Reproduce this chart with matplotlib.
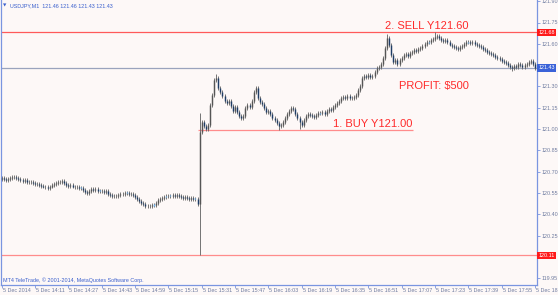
import matplotlib
matplotlib.use("Agg")
import matplotlib.pyplot as plt
import matplotlib.transforms as mtransforms

# ---------------- data ----------------
symbol_title = "USDJPY,M1  121.46 121.46 121.43 121.43"
copyright_text = "MT4 TeleTrade, \u00a9 2001-2014, MetaQuotes Software Corp."

first_open = 120.65
closes = [
    120.655, 120.65, 120.64, 120.645, 120.655, 120.66, 120.665, 120.655, 120.645, 120.64,
    120.635, 120.64, 120.63, 120.625, 120.63, 120.62, 120.615, 120.61, 120.605, 120.60,
    120.595, 120.59, 120.585, 120.595, 120.605, 120.615, 120.62, 120.625, 120.63, 120.634,
    120.62, 120.605, 120.60, 120.605, 120.595, 120.59, 120.595, 120.585, 120.585, 120.57,
    120.555, 120.55, 120.56, 120.575, 120.57, 120.575, 120.565, 120.565, 120.56, 120.555,
    120.56, 120.545, 120.535, 120.53, 120.525, 120.53, 120.535, 120.54, 120.545, 120.55,
    120.55, 120.545, 120.54, 120.535, 120.52, 120.505, 120.49, 120.48, 120.47, 120.46,
    120.455, 120.46, 120.465, 120.465, 120.48, 120.50, 120.51, 120.515, 120.523, 120.525,
    120.53, 120.53, 120.535, 120.53, 120.535, 120.53, 120.52, 120.515, 120.52, 120.515,
    120.51, 120.515, 120.51, 120.51, 120.47, 120.98, 121.05, 121.02, 121.00, 121.03,
    121.17, 121.24, 121.345, 121.36, 121.29, 121.26, 121.23, 121.20, 121.18, 121.20,
    121.16, 121.13, 121.155, 121.12, 121.09, 121.08, 121.09, 121.15, 121.17, 121.155,
    121.20, 121.26, 121.29, 121.22, 121.19, 121.175, 121.15, 121.12, 121.13, 121.105,
    121.08, 121.065, 121.04, 121.02, 121.03, 121.05, 121.08, 121.105, 121.13, 121.15,
    121.14, 121.105, 121.08, 121.05, 121.03, 121.065, 121.09, 121.105, 121.10, 121.09,
    121.085, 121.10, 121.11, 121.11, 121.12, 121.105, 121.125, 121.14, 121.135, 121.155,
    121.17, 121.18, 121.20, 121.22, 121.225, 121.22, 121.23, 121.22, 121.215, 121.225,
    121.24, 121.275, 121.30, 121.36, 121.37, 121.365, 121.38, 121.365, 121.37, 121.40,
    121.43, 121.435, 121.46, 121.50, 121.57, 121.64, 121.59, 121.52, 121.47, 121.485,
    121.46, 121.485, 121.50, 121.52, 121.53, 121.515, 121.535, 121.54, 121.555, 121.55,
    121.565, 121.57, 121.585, 121.60, 121.61, 121.61, 121.625, 121.635, 121.65, 121.655,
    121.64, 121.63, 121.62, 121.625, 121.61, 121.595, 121.585, 121.58, 121.57, 121.565,
    121.575, 121.585, 121.60, 121.61, 121.61, 121.605, 121.61, 121.60, 121.59, 121.585,
    121.575, 121.565, 121.555, 121.545, 121.535, 121.53, 121.52, 121.505, 121.50, 121.49,
    121.48, 121.47, 121.465, 121.45, 121.44, 121.43, 121.445, 121.44, 121.455, 121.45,
    121.44, 121.45, 121.46, 121.47, 121.48, 121.46, 121.43,
]
extreme_highs = {95: 121.11, 103: 121.39, 122: 121.30, 185: 121.67, 208: 121.68}
extreme_lows = {95: 120.11, 133: 120.99, 143: 121.00, 245: 121.41}
wick = 0.014

x_labels = ["5 Dec 2014", "5 Dec 14:11", "5 Dec 14:27", "5 Dec 14:43", "5 Dec 14:59",
            "5 Dec 15:15", "5 Dec 15:31", "5 Dec 15:47", "5 Dec 16:03", "5 Dec 16:19",
            "5 Dec 16:35", "5 Dec 16:51", "5 Dec 17:07", "5 Dec 17:23", "5 Dec 17:39",
            "5 Dec 17:55", "5 Dec 18:11"]
x_label_step = 16
y_ticks = [121.90, 121.75, 121.60, 121.30, 121.15, 121.00, 120.85, 120.70,
           120.55, 120.40, 120.25, 119.95]

sell_level = 121.68
current_level = 121.43
low_level = 120.11
buy_level = 120.99
buy_line_start, buy_line_end = 94.2, 197.5

sell_text = "2. SELL Y121.60"
profit_text = "PROFIT: $500"
buy_text = "1. BUY Y121.00"

# ---------------- figure ----------------
W, H = 558, 295
BG = "#fdf8f7"
AXC = "#7a95e0"
TXT = "#6f7ca0"
RED = "#ff2a2a"

fig = plt.figure(figsize=(W / 100, H / 100), dpi=100, facecolor=BG)
L, R, T, B = 1.0, 537.0, 0.0, 285.0
ax = fig.add_axes([L / W, (H - B) / H, (R - L) / W, (B - T) / H], facecolor=BG)

px_per_bar = 2.083
x0_px = 1.7
ax.set_xlim((L - x0_px) / px_per_bar, (R - x0_px) / px_per_bar)
ax.set_ylim(121.0 - (B - 129) / 142.0, 121.0 + 129 / 142.0)

ax.spines["top"].set_visible(False)
for s in ["left", "right", "bottom"]:
    ax.spines[s].set_color(AXC)
    ax.spines[s].set_linewidth(0.9)

# horizontal levels
ax.axhline(sell_level, color="#ff5a5a", lw=0.9, zorder=1)
ax.axhline(low_level, color="#ff8c8c", lw=0.9, zorder=1)
ax.axhline(current_level, color="#9aa3bd", lw=0.9, zorder=1)
ax.hlines(buy_level, buy_line_start, buy_line_end, color="#ff8c8c", lw=0.9, zorder=1)

# candles
opens = [first_open] + closes[:-1]
for i, (o, c) in enumerate(zip(opens, closes)):
    hi = extreme_highs.get(i, max(o, c) + wick)
    lo = extreme_lows.get(i, min(o, c) - wick)
    ax.vlines(i, lo, hi, color="#6a6a6a", lw=0.65, zorder=2)
    if abs(c - o) < 0.004:
        col = "#6ab4f5"
        b0, b1 = min(o, c) - 0.004, max(o, c) + 0.004
    elif c > o:
        col = "#555555"
        b0, b1 = o, c
    else:
        col = "#1f3d66"
        b0, b1 = c, o
    ax.vlines(i, b0, b1, color=col, lw=1.05, zorder=3)

# annotations
ax.text(184, 121.725, sell_text, color=RED, fontsize=8, family="Liberation Sans",
        va="center", ha="left", zorder=5)
ax.text(190.7, 121.303, profit_text, color=RED, fontsize=8, family="Liberation Sans",
        va="center", ha="left", zorder=5)
ax.text(159, 121.035, buy_text, color=RED, fontsize=8, family="Liberation Sans",
        va="center", ha="left", zorder=5)

# right price scale
ax.set_yticks(y_ticks)
ax.yaxis.tick_right()
ax.tick_params(axis="y", direction="out", length=2.2, width=0.6, color=AXC,
               labelsize=3.9, labelcolor=TXT, pad=1.2)
ax.set_yticklabels(["%.2f" % v for v in y_ticks], family="Liberation Sans")

trans = mtransforms.blended_transform_factory(ax.transAxes, ax.transData)
for lvl, fc in [(sell_level, "#ff1a1a"), (current_level, "#3a62d8"), (low_level, "#ff1a1a")]:
    ax.text(1.0 + 1.5 / (R - L), lvl, "%.2f" % lvl, transform=trans, fontsize=3.9,
            family="Liberation Sans", color="white", va="center", ha="left",
            bbox=dict(boxstyle="square,pad=0.25", fc=fc, ec="none"), clip_on=False, zorder=6)

# bottom time scale
tick_idx = [k * x_label_step for k in range(len(x_labels))]
ax.set_xticks(tick_idx)
ax.set_xticklabels([])
ax.tick_params(axis="x", direction="out", length=2.2, width=0.6, color=AXC)
xtrans = mtransforms.blended_transform_factory(ax.transData, ax.transAxes)
for k, lab in zip(tick_idx, x_labels):
    ax.text(k + 0.5, -0.012, lab, transform=xtrans, fontsize=3.9, family="Liberation Sans",
            color=TXT, va="top", ha="left", clip_on=False)

# header and footer
fig.text(3 / W, 1 - 5.5 / H, "\u25bc", fontsize=3.2, family=["DejaVu Sans"], color="#3a5fcd",
         va="center", ha="left")
fig.text(10 / W, 1 - 5.5 / H, symbol_title, fontsize=3.9, family="Liberation Sans",
         color="#3a5fcd", va="center", ha="left")
fig.text(3 / W, 1 - 280.5 / H, copyright_text, fontsize=3.9, family="Liberation Sans",
         color="#3a5fcd", va="center", ha="left")

fig.savefig("out.png", dpi=100, facecolor=BG)
